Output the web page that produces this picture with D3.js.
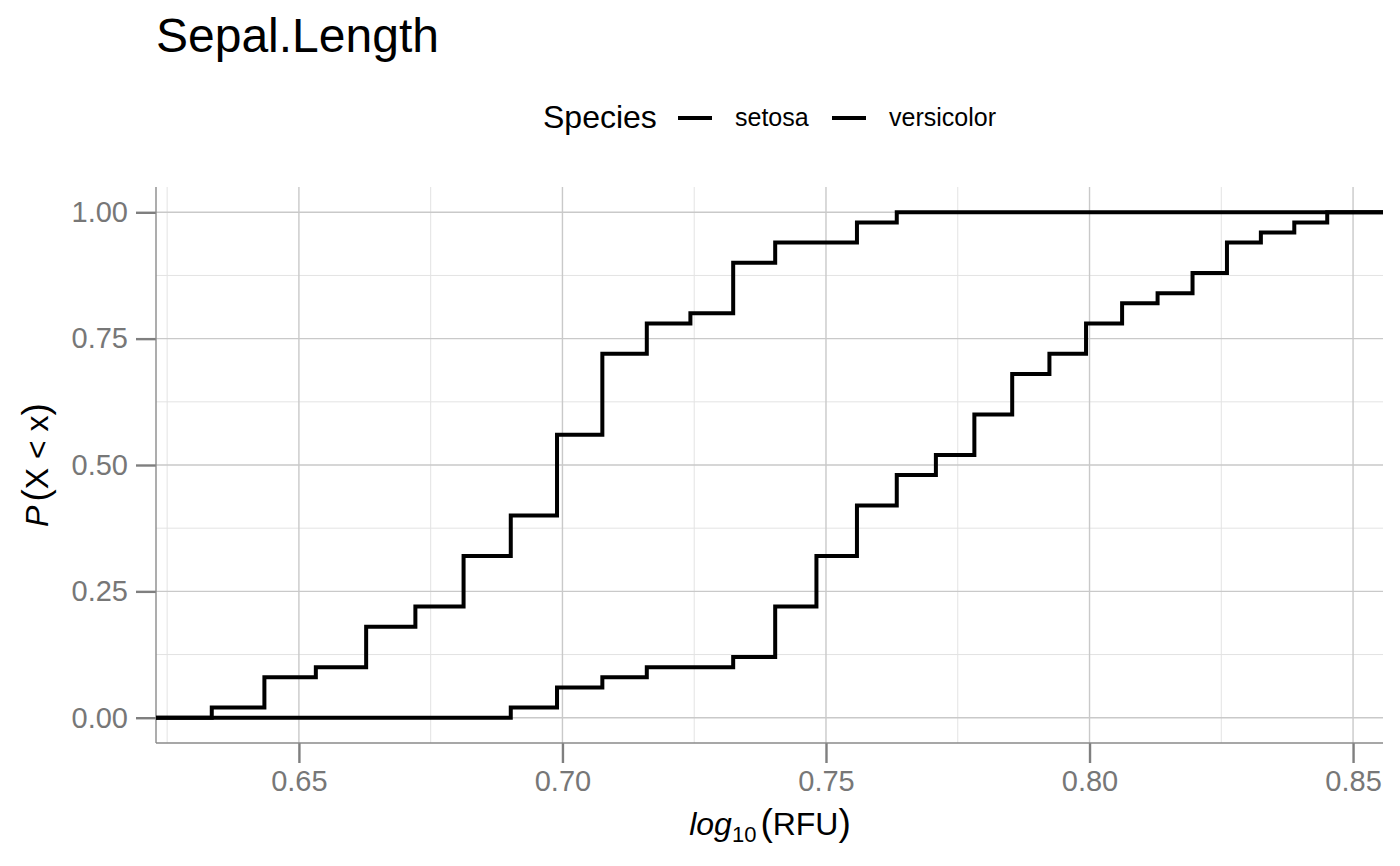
<!DOCTYPE html>
<html>
<head>
<meta charset="utf-8">
<script src="https://cdn.jsdelivr.net/npm/d3@7"></script>
<style>
  body { margin: 0; background: #fff; }
  text { font-family: "Liberation Sans", Arial, sans-serif; }
</style>
</head>
<body>
<div id="chart"></div>
<script>
    // ECDF steps: sepal length at each jump, cumulative share after it
    var setosaLength = [4.3, 4.4, 4.5, 4.6, 4.7, 4.8, 4.9, 5.0, 5.1, 5.2, 5.3, 5.4, 5.5, 5.7, 5.8];
    var setosaProb   = [0.02, 0.08, 0.10, 0.18, 0.22, 0.32, 0.40, 0.56, 0.72, 0.78, 0.80, 0.90, 0.94, 0.98, 1.00];

    var versicolorLength = [4.9, 5.0, 5.1, 5.2, 5.4, 5.5, 5.6, 5.7, 5.8, 5.9, 6.0, 6.1, 6.2, 6.3, 6.4, 6.5, 6.6, 6.7, 6.8, 6.9, 7.0];
    var versicolorProb   = [0.02, 0.06, 0.08, 0.10, 0.12, 0.22, 0.32, 0.42, 0.48, 0.52, 0.60, 0.68, 0.72, 0.78, 0.82, 0.84, 0.88, 0.94, 0.96, 0.98, 1.00];

    var species = ["setosa", "versicolor"];
    var xTicks = [0.65, 0.70, 0.75, 0.80, 0.85];
    var yTicks = [0, 0.25, 0.5, 0.75, 1];

    var width = 1400, height = 866;
    var margin = { left: 156, right: 17, top: 187, bottom: 123 };

    var svg = d3.select("#chart").append("svg")
        .attr("width", width)
        .attr("height", height);

    var series = [
        { name: "setosa", pts: setosaLength.map(function (v, i) { return [Math.log10(v), setosaProb[i]]; }) },
        { name: "versicolor", pts: versicolorLength.map(function (v, i) { return [Math.log10(v), versicolorProb[i]]; }) }
    ];

    // ggplot style 5% expansion
    var allX = series[0].pts.concat(series[1].pts).map(function (d) { return d[0]; });
    var xmin = d3.min(allX), xmax = d3.max(allX), pad = (xmax - xmin) * 0.05;
    var x = d3.scaleLinear()
        .domain([xmin - pad, xmax + pad])
        .range([margin.left, width - margin.right]);
    var y = d3.scaleLinear()
        .domain([-0.05, 1.05])
        .range([height - margin.bottom, margin.top]);

    var x0 = x.range()[0], x1 = x.range()[1];
    var y0 = y.range()[0], y1 = y.range()[1];

    // minor grid
    var xMinor = [0.625, 0.675, 0.725, 0.775, 0.825];
    var yMinor = [0.125, 0.375, 0.625, 0.875];
    var grid = svg.append("g");
    grid.selectAll("line.xmin").data(xMinor).enter().append("line")
        .attr("x1", function (d) { return x(d); }).attr("x2", function (d) { return x(d); })
        .attr("y1", y1).attr("y2", y0)
        .attr("stroke", "#e3e3e3").attr("stroke-width", 1);
    grid.selectAll("line.ymin").data(yMinor).enter().append("line")
        .attr("y1", function (d) { return y(d); }).attr("y2", function (d) { return y(d); })
        .attr("x1", x0).attr("x2", x1)
        .attr("stroke", "#e3e3e3").attr("stroke-width", 1);
    // major grid
    grid.selectAll("line.xmaj").data(xTicks).enter().append("line")
        .attr("x1", function (d) { return x(d); }).attr("x2", function (d) { return x(d); })
        .attr("y1", y1).attr("y2", y0)
        .attr("stroke", "#c9c9c9").attr("stroke-width", 1.4);
    grid.selectAll("line.ymaj").data(yTicks).enter().append("line")
        .attr("y1", function (d) { return y(d); }).attr("y2", function (d) { return y(d); })
        .attr("x1", x0).attr("x2", x1)
        .attr("stroke", "#c9c9c9").attr("stroke-width", 1.4);

    // axes
    var xAxis = svg.append("g")
        .attr("transform", "translate(0," + y0 + ")")
        .call(d3.axisBottom(x).tickValues(xTicks).tickSize(20).tickPadding(7).tickFormat(d3.format(".2f")));
    var yAxis = svg.append("g")
        .attr("transform", "translate(" + x0 + ",0)")
        .call(d3.axisLeft(y).tickValues(yTicks).tickSize(20).tickPadding(8).tickFormat(d3.format(".2f")));

    [xAxis, yAxis].forEach(function (a) {
        a.select(".domain").remove();
        a.selectAll(".tick line").attr("stroke", "#7f7f7f").attr("stroke-width", 2.4);
        a.selectAll(".tick text")
            .attr("fill", "#777777")
            .style("font-size", "29px")
            .style("font-family", "'Liberation Sans', Arial, sans-serif");
    });

    svg.append("line").attr("x1", x0).attr("x2", x0).attr("y1", y1).attr("y2", y0)
        .attr("stroke", "#8a8a8a").attr("stroke-width", 1.4);
    svg.append("line").attr("x1", x0).attr("x2", x1).attr("y1", y0).attr("y2", y0)
        .attr("stroke", "#8a8a8a").attr("stroke-width", 1.4);

    // step lines, padded out to the panel edges
    var line = d3.line()
        .x(function (d) { return d[0]; })
        .y(function (d) { return d[1]; })
        .curve(d3.curveStepAfter);

    series.forEach(function (s) {
        var pts = [[x0, y(0)]];
        s.pts.forEach(function (d) { pts.push([x(d[0]), y(d[1])]); });
        pts.push([x1, y(1)]);
        svg.append("path")
            .attr("d", line(pts))
            .attr("fill", "none")
            .attr("stroke", "#000")
            .attr("stroke-width", 4);
    });

    // title
    svg.append("text")
        .attr("x", 156).attr("y", 52)
        .style("font-size", "48px")
        .text("Sepal.Length");

    // legend
    var leg = svg.append("g");
    leg.append("text").attr("x", 543).attr("y", 128)
        .style("font-size", "32px").text("Species");
    var keyX = [678, 832];
    species.forEach(function (name, i) {
        leg.append("line")
            .attr("x1", keyX[i]).attr("x2", keyX[i] + 34)
            .attr("y1", 118).attr("y2", 118)
            .attr("stroke", "#000").attr("stroke-width", 4);
        leg.append("text")
            .attr("x", keyX[i] + 57).attr("y", 126)
            .style("font-size", "25px").text(name);
    });

    // x axis title: log10(RFU)
    var xt = svg.append("text")
        .attr("x", 770).attr("y", 835)
        .attr("text-anchor", "middle")
        .style("font-size", "32px");
    xt.append("tspan").style("font-style", "italic").text("log");
    xt.append("tspan").attr("dy", 7).style("font-size", "22px").text("10");
    xt.append("tspan").attr("dy", -7).attr("dx", 4).style("font-size", "37px").text("(");
    xt.append("tspan").text("RFU");
    xt.append("tspan").style("font-size", "37px").text(")");

    // y axis title: P(X < x)
    var yt = svg.append("text")
        .attr("transform", "translate(48," + y(0.5) + ") rotate(-90)")
        .attr("text-anchor", "middle")
        .style("font-size", "32px");
    yt.append("tspan").style("font-style", "italic").text("P");
    yt.append("tspan").attr("dx", 4).style("font-size", "37px").text("(");
    yt.append("tspan").text("X < x");
    yt.append("tspan").style("font-size", "37px").text(")");
</script>
</body>
</html>
